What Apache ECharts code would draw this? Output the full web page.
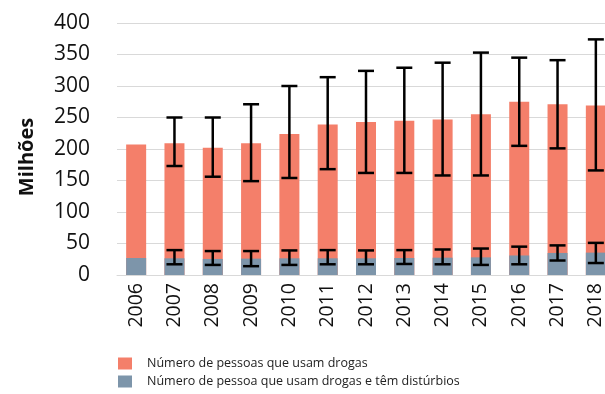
<!DOCTYPE html>
<html>
<head>
<meta charset="utf-8">
<script src="https://cdn.jsdelivr.net/npm/echarts@6/dist/echarts.min.js"></script>
<style>
  html, body { margin: 0; padding: 0; background: #fff; }
  #chart { width: 605px; height: 394px; }
</style>
</head>
<body>
<div id="chart"></div>
<script>
// chart data
const years = ['2006', '2007', '2008', '2009', '2010', '2011', '2012', '2013', '2014', '2015', '2016', '2017', '2018'];
const users = [207, 209, 202, 209, 224, 239, 243, 245, 247, 255, 275, 271, 269];
const usersLow = [null, 173, 156, 149, 154, 168, 162, 162, 158, 158, 205, 201, 166];
const usersHigh = [null, 250, 250, 271, 300, 314, 324, 329, 337, 353, 345, 341, 374];
const disorders = [27, 26.5, 25.5, 26, 26.5, 26.5, 26.5, 27, 27.5, 28, 31, 35, 35.5];
const disordersLow = [null, 17, 16, 14, 16, 17, 17, 17.5, 17, 16, 17, 23, 19];
const disordersHigh = [null, 39.5, 38, 38, 39, 39.5, 39, 39.5, 40.5, 42, 45, 47, 51];
const yTicks = [0, 50, 100, 150, 200, 250, 300, 350, 400];

const usersName = 'Número de pessoas que usam drogas';
const disordersName = 'Número de pessoa que usam drogas e têm distúrbios';

const font = 'Open Sans';

// error bar drawing: vertical line with caps
function errorBar(params, api) {
  const low = api.value(1);
  const high = api.value(2);
  if (low == null || isNaN(low)) return;
  const top = api.coord([api.value(0), high]);
  const bottom = api.coord([api.value(0), low]);
  const half = 8;
  const style = { stroke: '#000', lineWidth: 2.5 };
  return {
    type: 'group',
    children: [
      { type: 'line', shape: { x1: top[0], y1: top[1], x2: bottom[0], y2: bottom[1] }, style: style },
      { type: 'line', shape: { x1: top[0] - half, y1: top[1], x2: top[0] + half, y2: top[1] }, style: style },
      { type: 'line', shape: { x1: bottom[0] - half, y1: bottom[1], x2: bottom[0] + half, y2: bottom[1] }, style: style }
    ]
  };
}

const chart = echarts.init(document.getElementById('chart'));

chart.setOption({
  animation: false,
  grid: { left: 117, top: 23, width: 498, height: 252, outerBoundsMode: 'none' },
  legend: {
    orient: 'vertical',
    left: 118,
    top: 357,
    padding: 0,
    itemWidth: 14,
    itemHeight: 12,
    itemGap: 5,
    icon: 'rect',
    data: [usersName, disordersName],
    textStyle: { fontFamily: font, fontSize: 12.5, color: '#222', padding: [0, 0, 0, 10] }
  },
  xAxis: {
    type: 'category',
    data: years,
    axisTick: { show: false },
    axisLine: { lineStyle: { color: '#d9d9d9', width: 1 } },
    axisLabel: { rotate: 90, margin: 8, fontFamily: font, fontSize: 19.5, color: '#111' }
  },
  yAxis: {
    type: 'value',
    min: yTicks[0],
    max: yTicks[yTicks.length - 1],
    interval: 50,
    name: 'Milhões',
    nameLocation: 'middle',
    nameGap: 80,
    nameTextStyle: { fontFamily: font, fontSize: 20, fontWeight: 'bold', color: '#111', padding: [0, 16, 0, 0] },
    axisLine: { show: false },
    axisTick: { show: false },
    splitLine: { lineStyle: { color: '#d9d9d9', width: 1 } },
    axisLabel: { margin: 27, fontFamily: font, fontSize: 21, color: '#111' }
  },
  series: [
    {
      name: usersName,
      type: 'bar',
      data: users,
      barWidth: 20,
      barGap: '-100%',
      itemStyle: { color: '#F47F6A' }
    },
    {
      name: disordersName,
      type: 'bar',
      data: disorders,
      barWidth: 20,
      itemStyle: { color: '#7D95AA' }
    },
    {
      type: 'custom',
      renderItem: errorBar,
      data: years.map((y, i) => [i, usersLow[i], usersHigh[i]]),
      z: 5
    },
    {
      type: 'custom',
      renderItem: errorBar,
      data: years.map((y, i) => [i, disordersLow[i], disordersHigh[i]]),
      z: 5
    }
  ]
});
</script>
</body>
</html>
